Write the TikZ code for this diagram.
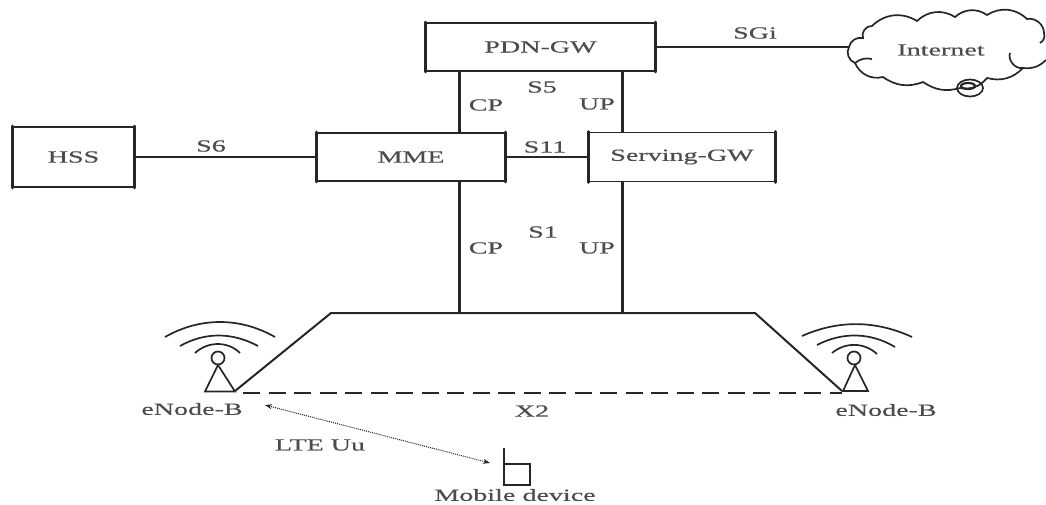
\documentclass[tikz,border=0pt]{standalone}
\usepackage{fontspec}
\usetikzlibrary{arrows.meta}
\setmainfont{Liberation Serif}[FakeStretch=1.65,FakeBold=0.5]
\definecolor{ink}{gray}{0.15}
\definecolor{txt}{gray}{0.3}
\tikzset{
  box/.style={draw=ink,line width=1.8pt,fill=white,inner sep=0pt,minimum width=#1},
  box/.default=100pt,
  wire/.style={draw=ink,line width=1.8pt},
  vwire/.style={draw=ink,line width=3pt},
  thin wire/.style={draw=ink,line width=1.7pt},
  lbl/.style={text=txt,font=\fontsize{17}{19}\selectfont,inner sep=0pt}
}
\begin{document}
\begin{tikzpicture}[x=1pt,y=-1pt]
\useasboundingbox (0,0) rectangle (1046,504);
% boxes
\node[box=229pt,minimum height=48pt,lbl] (pdn) at (540.5,47) {PDN-GW};
\node[box=188pt,minimum height=48pt,lbl] (mme) at (411,157) {MME};
\node[box=186pt,minimum height=49pt,lbl] (sgw) at (682,157) {Serving-GW};
\node[box=121pt,minimum height=60pt,lbl] (hss) at (73.5,157) {HSS};
\foreach \b in {pdn,mme,sgw,hss}{
  \draw[vwire,line cap=round] (\b.north west) -- (\b.south west);
  \draw[vwire,line cap=round] (\b.north east) -- (\b.south east);
}
% cloud
\coordinate (c1) at (849,47);
\draw[thin wire]
  (c1) to[bend left=45] (863,38) to[bend left=60] (872,26)
  to[bend left=38] (917,21) to[bend left=38] (955,17)
  to[bend left=38] (987,15) to[bend left=38] (1027,19)
  to[bend left=50] (1044,33) to[bend left=40] (1040,43);
\draw[thin wire]
  (1046,60) to[bend left=25] (1023,68) to[bend left=60] (1010,53);
\draw[thin wire]
  (1023,68) to[bend left=30] (987,78) to[bend left=30] (960,88)
  to[bend left=25] (923,82) to[bend left=28] (883,77)
  to[bend left=40] (855,63) to[bend left=50] (849,47);
\draw[thin wire] (855,63) to[bend left=25] (872,59);
\draw[thin wire] (970,88) ellipse (13pt and 8.5pt);
\draw[ink,line width=2.2pt] (968,86) ellipse (7pt and 3pt);
\node[lbl] (inet) at (941,50) {Internet};
% connectors
\path[wire] (pdn.east) -- (c1);
\path[wire] (hss.east) -- (mme.west);
\path[wire] (mme.east) -- (sgw.west);
\coordinate (lb) at (235,391);
\coordinate (tl) at (331,313);
\coordinate (tr) at (755,313);
\coordinate (rb) at (842,391);
\path[vwire] (pdn.south -| 459,0) -- (mme.north -| 459,0);
\path[vwire] (pdn.south -| 622,0) -- (sgw.north -| 622,0);
\path[vwire] (mme.south -| 459,0) -- (tl -| 459,0);
\path[vwire] (sgw.south -| 622,0) -- (tl -| 622,0);
\path[wire,line width=2pt] (lb) -- (tl) -- (tr) -- (rb);
\path[wire,line width=2pt,dash pattern=on 17pt off 8.5pt,dash phase=-8pt] (lb |- 0,393) -- (rb |- 0,393);
% left tower
\draw[thin wire] (218,358) circle (6.5pt);
\draw[thin wire,line join=miter] (218,365) -- (205,391.5) -- (235,391.5) -- cycle;
\draw[thin wire] (165,337) .. controls (200,317) and (240,317) .. (275,337);
\draw[thin wire] (180,346) .. controls (205,332) and (232,332) .. (258,346);
\draw[thin wire] (195,353) .. controls (208,341) and (228,341) .. (240,353);
% right tower
\draw[thin wire] (854,358) circle (6.5pt);
\draw[thin wire,line join=miter] (855,365) -- (843,391) -- (868,391) -- cycle;
\draw[thin wire] (802,336) .. controls (838,320) and (875,320) .. (912,337);
\draw[thin wire] (817,345) .. controls (842,332) and (870,332) .. (895,347);
\draw[thin wire] (832,353) .. controls (845,342) and (864,342) .. (877,354);
% device
\draw[ink,line width=2pt] (504,448) -- (504,485) -- (530,485) -- (530,464) -- (504,464);
\coordinate (ua) at (265,405);
\coordinate (ub) at (490,463);
\draw[ink,line width=1pt,densely dotted,{Stealth[length=7pt,width=5pt]}-{Stealth[length=7pt,width=5pt]}] (ua) -- (ub);
% labels
\node[lbl] (sgi) at (755,33) {SGi};
\node[lbl] (s5) at (542,87) {S5};
\node[lbl] (cp1) at (486,105) {CP};
\node[lbl] (up1) at (597,104) {UP};
\node[lbl] (s6) at (211,146) {S6};
\node[lbl] (s11) at (545,147) {S11};
\node[lbl] (s1) at (543,232) {S1};
\node[lbl] (cp2) at (486,248) {CP};
\node[lbl] (up2) at (597,248) {UP};
\node[lbl] (x2) at (532,411) {X2};
\node[lbl] (uu) at (320,445) {LTE Uu};
\node[lbl] (enl) at (192,409) {eNode-B};
\node[lbl] (enr) at (886,410) {eNode-B};
\node[lbl] (mob) at (515,495) {Mobile device};
\end{tikzpicture}
\end{document}
